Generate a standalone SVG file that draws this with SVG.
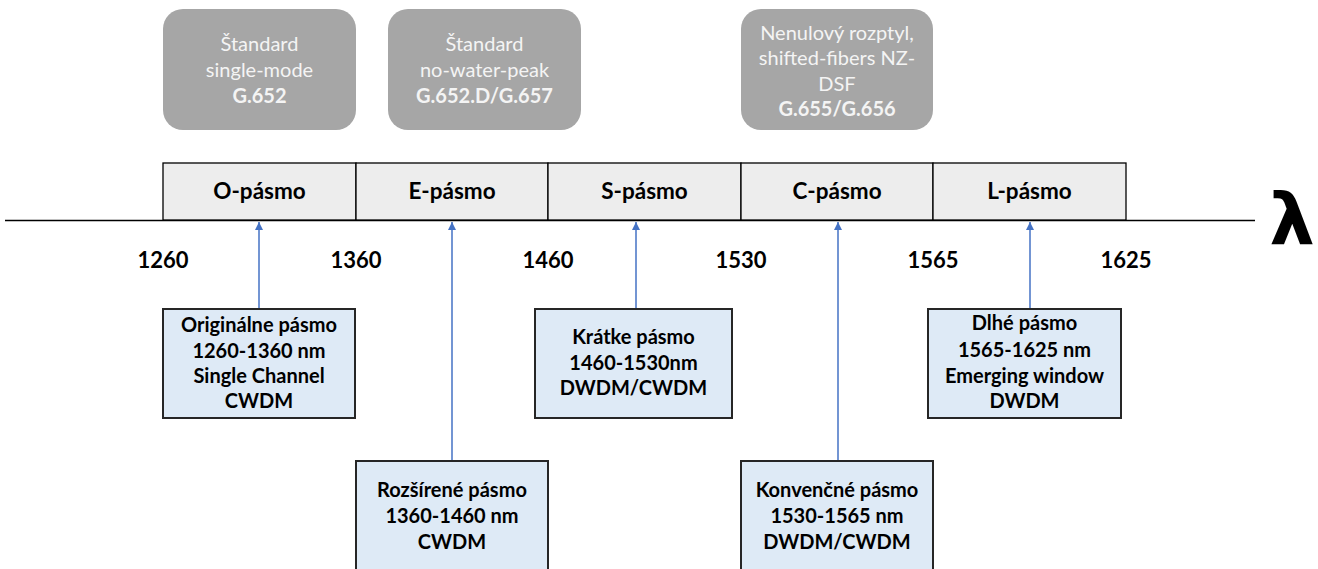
<svg xmlns="http://www.w3.org/2000/svg" width="1318" height="569" viewBox="0 0 1318 569">
<defs>
<style>
.std rect{fill:#a6a6a6;}
.std text{fill:#f4f4f4;font-family:Lato,"Open Sans",sans-serif;font-size:20px;text-anchor:middle;}
.std .b{font-weight:bold;}
.band rect{fill:#ededed;stroke:#000;stroke-width:1.3;}
.band text{font-family:Lato,"Open Sans",sans-serif;font-size:22.5px;font-weight:bold;text-anchor:middle;fill:#000;}
.num{font-family:Lato,"Open Sans",sans-serif;font-size:22px;font-weight:bold;text-anchor:middle;fill:#000;}
.info rect{fill:#deeaf6;stroke:#262626;stroke-width:2;}
.info text{font-family:Lato,"Open Sans",sans-serif;font-size:20px;font-weight:bold;text-anchor:middle;fill:#000;}
.conn line{stroke:#4472c4;stroke-width:1.5;}
</style>
<marker id="ah" viewBox="0 0 10 10" refX="10" refY="5" markerWidth="8" markerHeight="8" markerUnits="userSpaceOnUse" orient="auto">
<path d="M0,0 L10,5 L0,10 z" fill="#4472c4"/>
</marker>
</defs>
<rect width="1318" height="569" fill="#fff"/>

<g id="std1" class="std">
<rect x="163" y="9" width="193" height="121" rx="20"/>
<text x="259.5" y="51">Štandard</text>
<text x="259.5" y="77">single-mode</text>
<text x="259.5" y="103" class="b">G.652</text>
</g>
<g id="std2" class="std">
<rect x="388" y="9" width="193" height="121" rx="20"/>
<text x="484.5" y="51">Štandard</text>
<text x="484.5" y="77">no-water-peak</text>
<text x="484.5" y="103" class="b">G.652.D/G.657</text>
</g>
<g id="std3" class="std">
<rect x="741" y="9" width="192" height="121" rx="20"/>
<text x="837" y="40">Nenulový rozptyl,</text>
<text x="837" y="65">shifted-fibers NZ-</text>
<text x="837" y="91">DSF</text>
<text x="837" y="116" class="b">G.655/G.656</text>
</g>

<g id="axis">
<line x1="5" y1="220.5" x2="1255" y2="220.5" stroke="#000" stroke-width="1.5"/>
<text x="1292" y="244" font-family="DejaVu Sans,sans-serif" font-size="72" font-weight="bold" text-anchor="middle" fill="#000">λ</text>
</g>

<g id="band-O" class="band"><rect x="163" y="163" width="193" height="57"/><text x="259.5" y="199">O-pásmo</text></g>
<g id="band-E" class="band"><rect x="356" y="163" width="192" height="57"/><text x="452" y="199">E-pásmo</text></g>
<g id="band-S" class="band"><rect x="548" y="163" width="193" height="57"/><text x="644.5" y="199">S-pásmo</text></g>
<g id="band-C" class="band"><rect x="741" y="163" width="192" height="57"/><text x="837" y="199">C-pásmo</text></g>
<g id="band-L" class="band"><rect x="933" y="163" width="193" height="57"/><text x="1029.5" y="199">L-pásmo</text></g>

<g id="scale">
<text class="num" x="163" y="268">1260</text>
<text class="num" x="356" y="268">1360</text>
<text class="num" x="548" y="268">1460</text>
<text class="num" x="741" y="268">1530</text>
<text class="num" x="933" y="268">1565</text>
<text class="num" x="1126" y="268">1625</text>
</g>

<g id="connectors" class="conn">
<line x1="259" y1="308" x2="259" y2="222" marker-end="url(#ah)"/>
<line x1="452" y1="460" x2="452" y2="222" marker-end="url(#ah)"/>
<line x1="636" y1="308" x2="636" y2="222" marker-end="url(#ah)"/>
<line x1="838" y1="460" x2="838" y2="222" marker-end="url(#ah)"/>
<line x1="1030" y1="308" x2="1030" y2="222" marker-end="url(#ah)"/>
</g>

<g id="info-O" class="info">
<rect x="163" y="309" width="192" height="109"/>
<text x="259" y="332">Originálne pásmo</text>
<text x="259" y="358">1260-1360 nm</text>
<text x="259" y="383">Single Channel</text>
<text x="259" y="408">CWDM</text>
</g>
<g id="info-E" class="info">
<rect x="356" y="461" width="192" height="120"/>
<text x="452" y="497">Rozšírené pásmo</text>
<text x="452" y="523">1360-1460 nm</text>
<text x="452" y="549">CWDM</text>
</g>
<g id="info-S" class="info">
<rect x="535" y="309" width="197" height="109"/>
<text x="633.5" y="344">Krátke pásmo</text>
<text x="633.5" y="370">1460-1530nm</text>
<text x="633.5" y="395">DWDM/CWDM</text>
</g>
<g id="info-C" class="info">
<rect x="741" y="461" width="192" height="120"/>
<text x="837" y="497">Konvenčné pásmo</text>
<text x="837" y="523">1530-1565 nm</text>
<text x="837" y="549">DWDM/CWDM</text>
</g>
<g id="info-L" class="info">
<rect x="928" y="309" width="193" height="109"/>
<text x="1024.5" y="330">Dlhé pásmo</text>
<text x="1024.5" y="357">1565-1625 nm</text>
<text x="1024.5" y="383">Emerging window</text>
<text x="1024.5" y="408">DWDM</text>
</g>
</svg>
